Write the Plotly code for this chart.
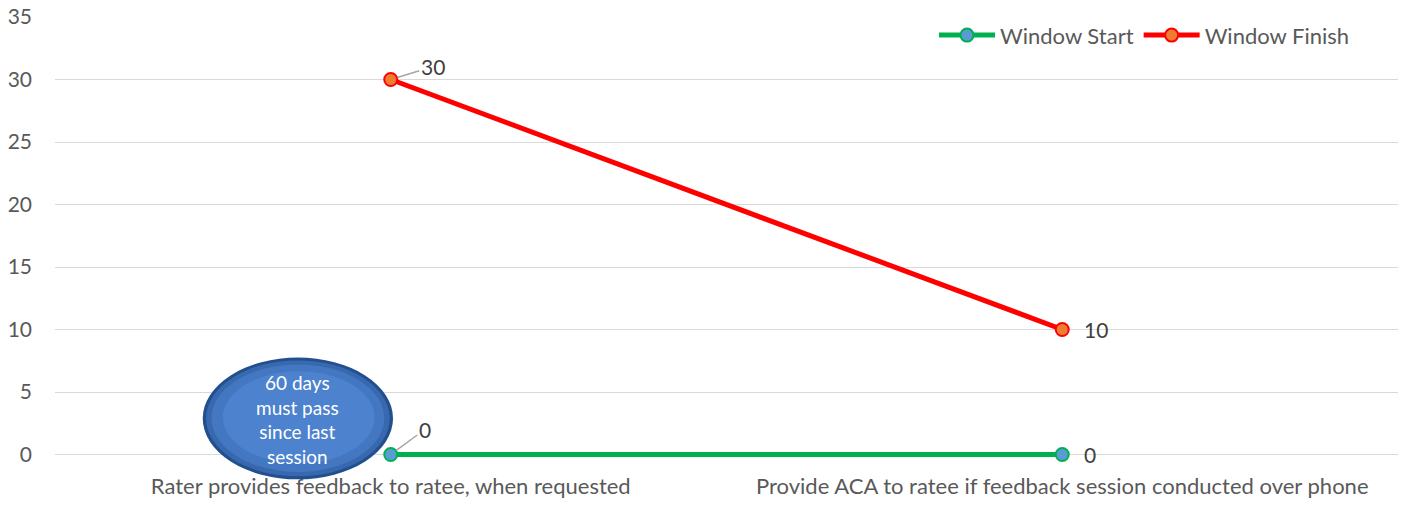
import plotly.graph_objects as go

categories = ["Rater provides feedback to ratee, when requested",
              "Provide ACA to ratee if feedback session conducted over phone"]
window_start = [0, 0]
window_finish = [30, 10]
y_ticks = [0, 5, 10, 15, 20, 25, 30, 35]
callout_text = "60 days<br>must pass<br>since last<br>session"

FONT = "Lato, 'Open Sans', sans-serif"
GREY = "#595959"

fig = go.Figure()
fig.add_trace(go.Scatter(
    x=categories, y=window_start, name="Window Start", mode="lines+markers",
    line=dict(color="#00B050", width=5),
    marker=dict(size=13, color="#5B9BD5", line=dict(color="#00B050", width=2)),
    cliponaxis=False,
))
fig.add_trace(go.Scatter(
    x=categories, y=window_finish, name="Window Finish", mode="lines+markers",
    line=dict(color="#FF0000", width=5),
    marker=dict(size=13, color="#ED7D31", line=dict(color="#FF0000", width=2)),
    cliponaxis=False,
))

# data labels
offsets_start = [(34, -25, True), (28, 0, False)]
offsets_finish = [(42, -13, True), (34, 0, False)]
for series, offs in ((window_start, offsets_start), (window_finish, offsets_finish)):
    for cat, val, (ax, ay, arrow) in zip(categories, series, offs):
        fig.add_annotation(
            x=cat, y=val, text=str(val), ax=ax, ay=ay, axref="pixel", ayref="pixel",
            showarrow=True, arrowhead=0, arrowwidth=1.5 if arrow else 0.1,
            arrowcolor="#A6A6A6" if arrow else "rgba(0,0,0,0)", standoff=7,
            font=dict(family=FONT, size=21, color="#404040"),
        )

# callout ellipse (layered to mimic gradient); paper coords of the plot area
layers = [
    (0.110, 0.2517, -0.0275, 0.2431, "#22508F"),
    (0.1125, 0.2492, -0.0208, 0.2368, "#3868AE"),
    (0.1165, 0.2452, -0.0110, 0.2280, "#4377C2"),
    (0.125, 0.2380, 0.0080, 0.2130, "#4C82CE"),
]
for x0, x1, y0, y1, col in layers:
    fig.add_shape(type="circle", xref="paper", yref="paper", x0=x0, x1=x1, y0=y0, y1=y1,
                  fillcolor=col, line=dict(width=0), layer="above")
fig.add_annotation(x=0.1808, y=0.1066, xref="paper", yref="paper", text=callout_text,
                   xanchor="center", yanchor="middle",
                   showarrow=False, font=dict(family=FONT, size=19, color="white"),
                   align="center")

fig.update_layout(
    width=1413, height=513,
    margin=dict(l=55, r=15, t=17, b=45.5),
    paper_bgcolor="white", plot_bgcolor="white",
    font=dict(family=FONT, size=21, color=GREY),
    showlegend=True,
    legend=dict(orientation="h", x=0.968, xanchor="right", y=1.006, yanchor="top",
                font=dict(family=FONT, size=22, color=GREY), bgcolor="rgba(0,0,0,0)",
                itemwidth=56),
    xaxis=dict(type="category", range=[-0.5, 1.5], showgrid=False, zeroline=False,
               showline=False, ticks="", automargin=False, ticklabelstandoff=4,
               tickfont=dict(family=FONT, size=22, color=GREY)),
    yaxis=dict(range=[-1, 35], tickvals=y_ticks, showgrid=True, gridcolor="#D9D9D9",
               gridwidth=1.3, zeroline=False, showline=False, ticks="", automargin=False,
               ticklabelstandoff=22, tickfont=dict(family=FONT, size=21, color=GREY)),
)

fig.write_html("out.html")
